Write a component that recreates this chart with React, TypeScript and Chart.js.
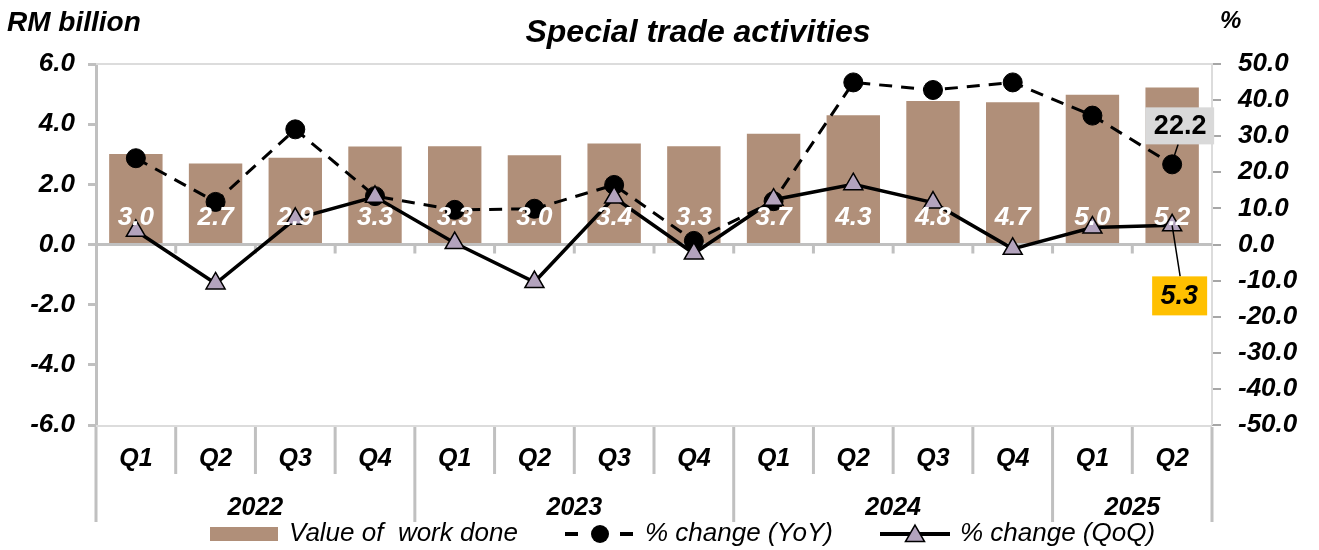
import React, { useEffect, useRef } from "react";
import { Chart, registerables } from "chart.js";

Chart.register(...registerables);

const quarterLabels = ["Q1", "Q2", "Q3", "Q4", "Q1", "Q2", "Q3", "Q4", "Q1", "Q2", "Q3", "Q4", "Q1", "Q2"];
const yearLabels = ["2022", "2023", "2024", "2025"];
const yearSpans = [4, 4, 4, 2];
const valueOfWorkDone = [3.01, 2.69, 2.88, 3.26, 3.27, 2.97, 3.36, 3.27, 3.68, 4.3, 4.77, 4.73, 4.98, 5.22];
const yoyChange = [23.9, 11.8, 31.9, 13.4, 9.6, 9.9, 16.5, 1.0, 12.0, 44.9, 42.8, 44.9, 35.7, 22.2];
const qoqChange = [3.8, -10.8, 7.1, 13.2, 0.4, -10.4, 13.0, -2.5, 12.4, 16.7, 11.6, -1.2, 4.7, 5.3];
const leftAxisRange = [-6, 6, 2];
const rightAxisRange = [-50, 50, 10];

const FONT = '"Liberation Sans", Arial, Helvetica, sans-serif';
const BAR_COLOR = "#b08f79";
const TRI_COLOR = "#b3a3bd";
const AXIS_GRAY = "#c0c0c0";

function drawTriangle(ctx: CanvasRenderingContext2D, x: number, y: number, r: number) {
  ctx.beginPath();
  ctx.moveTo(x, y - r);
  ctx.lineTo(x + r * Math.sin((2 * Math.PI) / 3), y + r / 2);
  ctx.lineTo(x - r * Math.sin((2 * Math.PI) / 3), y + r / 2);
  ctx.closePath();
  ctx.fillStyle = TRI_COLOR;
  ctx.fill();
  ctx.strokeStyle = "#000";
  ctx.lineWidth = 1.5;
  ctx.stroke();
}

const customPlugin = {
  id: "customDraw",
  beforeDatasetsDraw(chart: any) {
    const ctx = chart.ctx as CanvasRenderingContext2D;
    const { left, right, top, bottom } = chart.chartArea;
    const y = chart.scales.y;
    ctx.save();
    // plot frame shadow
    ctx.strokeStyle = "#dcdcdc";
    ctx.lineWidth = 2;
    ctx.beginPath();
    ctx.moveTo(left, top);
    ctx.lineTo(right, top);
    ctx.lineTo(right, bottom);
    ctx.moveTo(left, bottom + 1);
    ctx.lineTo(right, bottom + 1);
    ctx.stroke();
    // zero line
    const zy = y.getPixelForValue(0);
    ctx.strokeStyle = AXIS_GRAY;
    ctx.lineWidth = 3;
    ctx.beginPath();
    ctx.moveTo(left, zy);
    ctx.lineTo(right, zy);
    const n = quarterLabels.length;
    const w = (right - left) / n;
    for (let k = 1; k < n; k++) {
      const bx = left + w * k;
      ctx.moveTo(bx, zy);
      ctx.lineTo(bx, zy + 9);
    }
    ctx.stroke();
    ctx.restore();
  },
  afterDatasetsDraw(chart: any) {
    const ctx = chart.ctx as CanvasRenderingContext2D;
    const x = chart.scales.x;
    const y = chart.scales.y;
    const zy = y.getPixelForValue(0);
    ctx.save();
    ctx.font = `italic bold 26px ${FONT}`;
    ctx.fillStyle = "#fff";
    ctx.textAlign = "center";
    ctx.textBaseline = "middle";
    valueOfWorkDone.forEach((v, i) => {
      ctx.fillText(v.toFixed(1), x.getPixelForValue(i), zy - 27);
    });
    ctx.restore();
  },
  afterDraw(chart: any) {
    const ctx = chart.ctx as CanvasRenderingContext2D;
    const { left, right, bottom } = chart.chartArea;
    const x = chart.scales.x;
    const y1 = chart.scales.y1;
    const n = quarterLabels.length;
    const w = (right - left) / n;
    ctx.save();

    // dividers
    ctx.strokeStyle = AXIS_GRAY;
    ctx.lineWidth = 3;
    const yearBounds: number[] = [0];
    let acc = 0;
    yearSpans.forEach((s) => {
      acc += s;
      yearBounds.push(acc);
    });
    ctx.beginPath();
    for (let k = 0; k <= n; k++) {
      const bx = left + w * k;
      const isYear = yearBounds.includes(k);
      ctx.moveTo(bx, bottom + 2);
      ctx.lineTo(bx, isYear ? bottom + 97 : bottom + 49);
    }
    ctx.stroke();

    // quarter labels
    ctx.fillStyle = "#000";
    ctx.textAlign = "center";
    ctx.textBaseline = "middle";
    ctx.font = `italic bold 25px ${FONT}`;
    quarterLabels.forEach((q, i) => {
      ctx.fillText(q, x.getPixelForValue(i), bottom + 34);
    });
    // year labels
    let start = 0;
    yearLabels.forEach((yl, i) => {
      const cx = left + w * (start + yearSpans[i] / 2);
      ctx.fillText(yl, cx, bottom + 83);
      start += yearSpans[i];
    });

    // title & axis titles
    ctx.font = `italic bold 32px ${FONT}`;
    ctx.fillText("Special trade activities", 698, 33);
    ctx.textAlign = "left";
    ctx.font = `italic bold 28px ${FONT}`;
    ctx.fillText("RM billion", 7, 23);
    ctx.font = `italic bold 24px ${FONT}`;
    ctx.fillText("%", 1220, 21);

    // legend
    const ly = 534;
    ctx.fillStyle = BAR_COLOR;
    ctx.fillRect(210, 527, 68, 14);
    ctx.fillStyle = "#000";
    ctx.font = `italic 26px ${FONT}`;
    ctx.fillText("Value of  work done", 289, ly);
    ctx.strokeStyle = "#000";
    ctx.lineWidth = 4;
    ctx.beginPath();
    ctx.moveTo(565, ly);
    ctx.lineTo(578, ly);
    ctx.moveTo(620, ly);
    ctx.lineTo(633, ly);
    ctx.stroke();
    ctx.beginPath();
    ctx.arc(600, ly, 9, 0, Math.PI * 2);
    ctx.fill();
    ctx.fillText("% change (YoY)", 645, ly);
    ctx.beginPath();
    ctx.moveTo(880, ly);
    ctx.lineTo(950, ly);
    ctx.stroke();
    drawTriangle(ctx, 915, ly + 2, 11);
    ctx.fillStyle = "#000";
    ctx.fillText("% change (QoQ)", 960, ly);

    // annotations for the latest quarter
    const last = n - 1;
    const px = x.getPixelForValue(last);
    const yoyY = y1.getPixelForValue(yoyChange[last]);
    const qoqY = y1.getPixelForValue(qoqChange[last]);
    ctx.strokeStyle = "#000";
    ctx.lineWidth = 1.5;
    ctx.beginPath();
    ctx.moveTo(px + 6, yoyY - 20);
    ctx.lineTo(px + 2, yoyY - 8);
    ctx.moveTo(px, qoqY);
    ctx.lineTo(px + 8, qoqY + 51);
    ctx.stroke();

    ctx.fillStyle = "#d9d9d9";
    ctx.fillRect(px - 27, yoyY - 57, 69, 37);
    ctx.fillStyle = "#ffc000";
    ctx.fillRect(px - 20, qoqY + 51, 55, 39);
    ctx.fillStyle = "#000";
    ctx.textAlign = "center";
    ctx.font = `bold 27px ${FONT}`;
    ctx.fillText(yoyChange[last].toFixed(1), px + 8, yoyY - 38);
    ctx.font = `italic bold 27px ${FONT}`;
    ctx.fillText(qoqChange[last].toFixed(1), px + 7, qoqY + 71);
    ctx.restore();
  },
};

export default function App() {
  const ref = useRef<HTMLCanvasElement | null>(null);
  useEffect(() => {
    document.body.style.margin = "0";
    const canvas = ref.current;
    if (!canvas) return;
    Chart.defaults.font.family = FONT;
    const chart = new Chart(canvas, {
      type: "bar",
      data: {
        labels: quarterLabels,
        datasets: [
          {
            type: "line",
            label: "% change (QoQ)",
            data: qoqChange,
            yAxisID: "y1",
            borderColor: "#000",
            borderWidth: 3.5,
            pointStyle: "triangle",
            pointRadius: 11,
            pointBackgroundColor: TRI_COLOR,
            pointBorderColor: "#000",
            pointBorderWidth: 1.5,
            tension: 0,
            order: 1,
          } as any,
          {
            type: "line",
            label: "% change (YoY)",
            data: yoyChange,
            yAxisID: "y1",
            borderColor: "#000",
            borderWidth: 3,
            borderDash: [13, 9],
            pointStyle: "circle",
            pointRadius: 9.5,
            pointBackgroundColor: "#000",
            pointBorderColor: "#000",
            pointBorderWidth: 1,
            tension: 0,
            order: 2,
          } as any,
          {
            type: "bar",
            label: "Value of  work done",
            data: valueOfWorkDone,
            yAxisID: "y",
            backgroundColor: BAR_COLOR,
            borderWidth: 0,
            barPercentage: 0.67,
            categoryPercentage: 1,
            order: 3,
          } as any,
        ],
      },
      options: {
        responsive: false,
        animation: false,
        devicePixelRatio: 1,
        layout: { padding: { top: 64, left: 0, right: 0, bottom: 0 } },
        plugins: { legend: { display: false }, tooltip: { enabled: false }, title: { display: false } },
        scales: {
          x: {
            type: "category",
            grid: { display: false },
            border: { display: false },
            ticks: { display: false },
            afterFit(s: any) {
              s.height = 125;
            },
          },
          y: {
            position: "left",
            min: leftAxisRange[0],
            max: leftAxisRange[1],
            ticks: {
              stepSize: leftAxisRange[2],
              callback: (v: any) => Number(v).toFixed(1),
              font: { family: FONT, size: 26, weight: "bold", style: "italic" },
              color: "#000",
              padding: 13,
            },
            grid: { display: true, drawOnChartArea: false, drawTicks: true, tickLength: 8, color: AXIS_GRAY, lineWidth: 3 },
            border: { display: true, color: AXIS_GRAY, width: 3 },
            afterFit(s: any) {
              s.width = 96;
            },
          },
          y1: {
            position: "right",
            min: rightAxisRange[0],
            max: rightAxisRange[1],
            ticks: {
              stepSize: rightAxisRange[2],
              callback: (v: any) => Number(v).toFixed(1),
              font: { family: FONT, size: 26, weight: "bold", style: "italic" },
              color: "#000",
              padding: 17,
            },
            grid: { display: true, drawOnChartArea: false, drawTicks: true, tickLength: 9, color: "#a6a6a6", lineWidth: 2 },
            border: { display: true, color: "#a6a6a6", width: 2 },
            afterFit(s: any) {
              s.width = 107;
            },
          },
        },
      } as any,
      plugins: [customPlugin],
    });
    return () => chart.destroy();
  }, []);
  return (
    <div style={{ position: "absolute", left: 0, top: 0, width: 1319, height: 550, background: "#fff" }}>
      <canvas ref={ref} width={1319} height={550} style={{ display: "block" }} />
    </div>
  );
}
